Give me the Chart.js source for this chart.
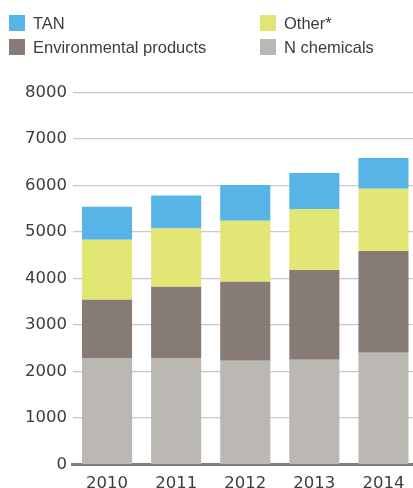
<!DOCTYPE html>
<html>
<head>
<meta charset="utf-8">
<script src="https://cdn.jsdelivr.net/npm/chart.js@4/dist/chart.umd.min.js"></script>
<style>
  html, body { margin: 0; padding: 0; background: #fff; overflow: hidden; width: 413px; height: 488px; }
  #wrap { position: absolute; left: 0; top: 0; width: 418px; height: 488px; }
  #legend { position: absolute; left: 0; top: 0; width: 413px; height: 70px;
    font-family: "Liberation Sans", Arial, sans-serif; font-size: 16.5px; color: #3d3d3d; }
  .item { position: absolute; height: 16px; line-height: 17px; white-space: nowrap; }
  .sw { position: absolute; left: 0; top: 0; width: 16px; height: 16px; }
  .lb { position: absolute; left: 24px; top: 0; }
</style>
</head>
<body>
<div id="wrap"><canvas id="c"></canvas></div>
<div id="legend"></div>
<script>
const categories = ["2010", "2011", "2012", "2013", "2014"];
const nChemicals = [2290, 2290, 2230, 2250, 2400];
const environmentalProducts = [1250, 1530, 1700, 1930, 2190];
const other = [1290, 1250, 1310, 1310, 1335];
const tan = [710, 710, 770, 775, 665];
const yTicks = [0, 1000, 2000, 3000, 4000, 5000, 6000, 7000, 8000];

const colors = {
  tan: "#56b5e6",
  other: "#e2e674",
  env: "#877b76",
  n: "#bbb7b3"
};

const datasets = [
  { label: "N chemicals", data: nChemicals, backgroundColor: colors.n },
  { label: "Environmental products", data: environmentalProducts, backgroundColor: colors.env },
  { label: "Other*", data: other, backgroundColor: colors.other },
  { label: "TAN", data: tan, backgroundColor: colors.tan }
];

// HTML legend built from dataset labels (two columns)
const legendItems = [
  { ds: 3, x: 9, y: 15 },
  { ds: 2, x: 260, y: 15 },
  { ds: 1, x: 9, y: 39 },
  { ds: 0, x: 260, y: 39 }
];
const legendEl = document.getElementById("legend");
legendItems.forEach(it => {
  const d = datasets[it.ds];
  const div = document.createElement("div");
  div.className = "item";
  div.style.left = it.x + "px";
  div.style.top = it.y + "px";
  div.innerHTML = '<span class="sw" style="background:' + d.backgroundColor + '"></span><span class="lb">' + d.label + '</span>';
  legendEl.appendChild(div);
});

new Chart(document.getElementById("c"), {
  type: "bar",
  data: {
    labels: categories,
    datasets: datasets.map(d => Object.assign({}, d, {
      barPercentage: 0.725,
      categoryPercentage: 1.0,
      borderWidth: 0
    }))
  },
  options: {
    responsive: true,
    maintainAspectRatio: false,
    animation: false,
    layout: { padding: { top: 92.3, left: 0, right: 0, bottom: 0 } },
    plugins: { legend: { display: false }, tooltip: { enabled: false } },
    scales: {
      x: {
        stacked: true,
        grid: { display: false, drawTicks: false },
        border: { display: true, color: "#877b76", width: 3 },
        ticks: {
          color: "#3d3d3d",
          font: { family: "DejaVu Sans", size: 16.5 },
          padding: 9
        },
        afterFit: s => { s.height = 23.5; }
      },
      y: {
        stacked: true,
        min: 0,
        max: 8000,
        afterBuildTicks: s => { s.ticks = yTicks.map(v => ({ value: v })); },
        grid: { color: "#c8c8c8", lineWidth: 1.2, drawTicks: false },
        border: { display: false },
        ticks: {
          color: "#3d3d3d",
          font: { family: "DejaVu Sans", size: 16.5 },
          padding: 5.5,
          callback: v => String(v)
        },
        afterFit: s => { s.width = 72.5; }
      }
    }
  }
});
</script>
</body>
</html>
